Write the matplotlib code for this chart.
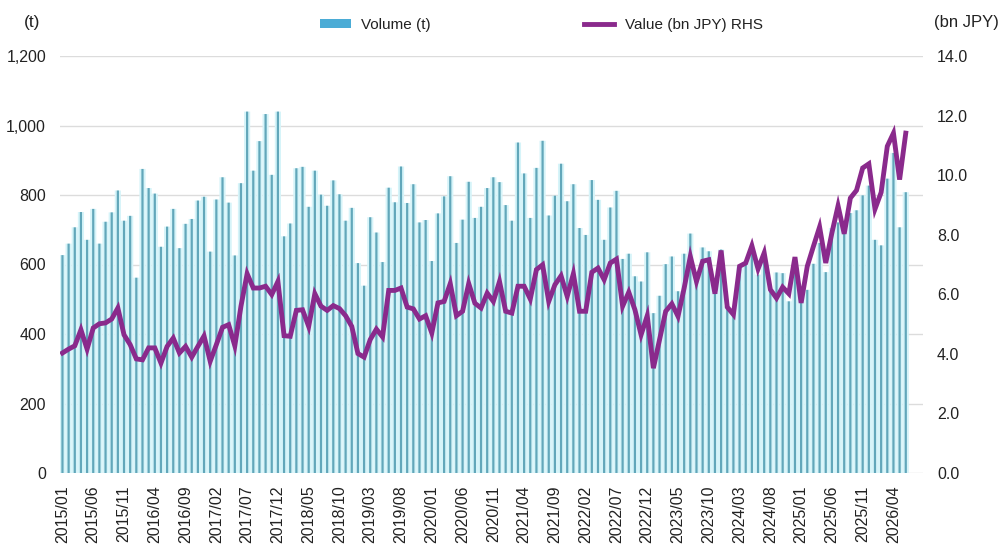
import numpy as np
import matplotlib
matplotlib.use("Agg")
import matplotlib.pyplot as plt
from matplotlib.ticker import FuncFormatter
from matplotlib.patches import Patch
from matplotlib.lines import Line2D


# months 2015/01 .. 2026/06
months = [f"{y}/{m:02d}" for y in range(2015, 2027) for m in range(1, 13)][:138]

# monthly volume (t)
volume = [627, 660, 707, 751, 671, 760, 660, 723, 750, 813, 726, 740,
          562, 875, 820, 804, 651, 709, 760, 647, 717, 731, 784, 795,
          637, 787, 851, 778, 626, 834, 1040, 870, 955, 1033, 858, 1040,
          681, 718, 877, 881, 766, 870, 801, 769, 842, 802, 726, 763,
          604, 539, 736, 692, 607, 821, 779, 882, 777, 831, 721, 728,
          610, 747, 796, 854, 662, 729, 838, 734, 766, 820, 851, 837,
          771, 726, 951, 862, 734, 878, 956, 741, 798, 890, 782, 831,
          705, 685, 843, 786, 671, 764, 812, 616, 631, 566, 551, 635,
          460, 510, 601, 623, 523, 631, 689, 551, 649, 638, 518, 643,
          480, 460, 595, 604, 638, 571, 610, 525, 577, 575, 494, 600,
          530, 527, 602, 662, 578, 705, 721, 700, 748, 756, 799, 827,
          671, 655, 847, 921, 707, 808]

# monthly value (bn JPY), right-hand scale
value = [4.03, 4.16, 4.27, 4.81, 4.16, 4.87, 5.01, 5.04, 5.17, 5.54, 4.64, 4.31,
         3.83, 3.80, 4.20, 4.20, 3.69, 4.25, 4.53, 4.03, 4.25, 3.89, 4.25, 4.60,
         3.75, 4.31, 4.89, 4.98, 4.27, 5.60, 6.69, 6.21, 6.21, 6.27, 5.99, 6.43,
         4.61, 4.59, 5.46, 5.48, 4.92, 6.02, 5.60, 5.46, 5.62, 5.52, 5.28, 4.92,
         4.01, 3.89, 4.48, 4.83, 4.57, 6.13, 6.13, 6.21, 5.57, 5.51, 5.17, 5.28,
         4.70, 5.71, 5.76, 6.36, 5.28, 5.43, 6.36, 5.70, 5.54, 6.04, 5.76, 6.43,
         5.43, 5.37, 6.27, 6.27, 5.84, 6.83, 6.99, 5.76, 6.32, 6.62, 5.93, 6.69,
         5.43, 5.43, 6.74, 6.88, 6.49, 7.05, 7.18, 5.60, 6.07, 5.48, 4.64, 5.28,
         3.52, 4.48, 5.43, 5.68, 5.26, 6.21, 7.27, 6.43, 7.11, 7.16, 6.02, 7.47,
         5.57, 5.32, 6.94, 7.05, 7.63, 6.85, 7.39, 6.16, 5.87, 6.24, 6.02, 7.25,
         5.71, 6.94, 7.61, 8.26, 7.05, 8.06, 8.97, 8.03, 9.23, 9.49, 10.24, 10.38,
         8.86, 9.42, 10.97, 11.41, 9.85, 11.41]

left_ticks = [0, 200, 400, 600, 800, 1000, 1200]
right_ticks = [0, 2, 4, 6, 8, 10, 12, 14]

bar_col = "#62a7ba"
fill_col = "#d6f4f9"
line_col = "#8a2a8c"
legend_blue = "#4bacd6"
grid_col = "#dcdcdc"
txt_col = "#222222"

plt.rcParams["font.family"] = ["Liberation Sans", "DejaVu Sans"]

fig = plt.figure(figsize=(10.03, 5.51), dpi=100)
ax = fig.add_axes([60 / 1003, 78 / 551, 863 / 1003, 417 / 551])
x = np.arange(len(months))

# light fill between bars, then the thin darker bar
ax.bar(x, volume, width=1.0, color=fill_col, linewidth=0, zorder=2, snap=False)
ax.bar(x, volume, width=0.36, color=bar_col, linewidth=0, zorder=3, snap=False)

ax.set_ylim(0, 1200)
ax.set_xlim(-0.4, 139.8)
ax.set_yticks(left_ticks)
ax.yaxis.set_major_formatter(FuncFormatter(lambda v, p: f"{int(v):,}"))
ax.grid(axis="y", color=grid_col, linewidth=1.0, zorder=0)
ax.set_axisbelow(True)

ax.set_xticks(x[::5])
ax.set_xticklabels(months[::5], rotation=90, fontsize=11.5, color=txt_col)
ax.tick_params(axis="x", length=0, pad=9)
ax.tick_params(axis="y", length=0, pad=10, labelsize=11.5, labelcolor=txt_col)

ax2 = ax.twinx()
ax2.plot(x, value, color=line_col, linewidth=3.5, solid_joinstyle="miter", zorder=5)
ax2.set_ylim(0, 14)
ax2.set_yticks(right_ticks)
ax2.yaxis.set_major_formatter(FuncFormatter(lambda v, p: f"{v:.1f}"))
ax2.tick_params(axis="y", length=0, pad=10, labelsize=11.5, labelcolor=txt_col)

for a in (ax, ax2):
    for s in a.spines.values():
        s.set_visible(False)

fig.text(32 / 1003, 1 - 22 / 551, "(t)", fontsize=12.5, color=txt_col,
         ha="center", va="center")
fig.text(999 / 1003, 1 - 22 / 551, "(bn JPY)", fontsize=12, color=txt_col,
         ha="right", va="center")

handles = [Patch(facecolor=legend_blue, edgecolor="none"),
           Line2D([0], [0], color=line_col, linewidth=3.5)]
fig.legend(handles, ["Volume (t)", "Value (bn JPY) RHS"], ncol=2,
           loc="center", bbox_to_anchor=(0.54, 1 - 25 / 551), frameon=False,
           fontsize=11, handlelength=2.0, handleheight=0.5,
           columnspacing=10.0, handletextpad=0.7, labelcolor=txt_col)

fig.savefig("out.png", dpi=100)
